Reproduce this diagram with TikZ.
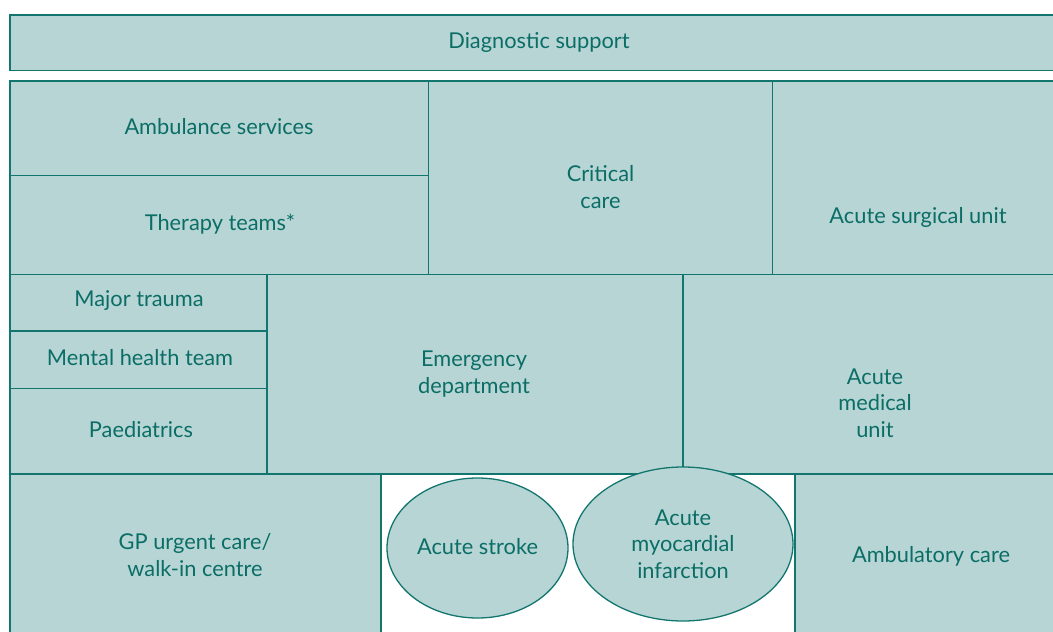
\documentclass[tikz,border=0pt]{standalone}
\usepackage{fontspec}
\setmainfont{Lato}
\usetikzlibrary{shapes.geometric}
\definecolor{boxfill}{RGB}{184,213,213}
\definecolor{boxline}{RGB}{18,118,110}
\definecolor{boxtext}{RGB}{10,110,102}
\tikzset{
  area/.style={fill=boxfill, draw=boxline, line width=1.3pt},
  lbl/.style={text=boxtext, font=\fontsize{21.8}{26.5}\selectfont, align=center, inner sep=0pt},
}
\begin{document}
\begin{tikzpicture}[x=1pt,y=-1pt]
\useasboundingbox (0,0) rectangle (1053,632);
\clip (0,0) rectangle (1053,632);
% shapes
\draw[area] (10,15) rectangle (1070,70.5);
\draw[area] (10,81) rectangle (428.5,175.5);
\draw[area] (10,175.5) rectangle (428.5,274.5);
\draw[area] (428.5,81) rectangle (772.5,274.5);
\draw[area] (772.5,81) rectangle (1070,274.5);
\draw[area] (10,274.5) rectangle (267,331);
\draw[area] (10,331) rectangle (267,388.5);
\draw[area] (10,388.5) rectangle (267,474);
\draw[area] (267,274.5) rectangle (683,474);
\draw[area] (683,274.5) rectangle (1070,474);
\draw[area] (10,474) rectangle (381,650);
\draw[area] (795,474) rectangle (1070,650);
\node[area, ellipse, minimum width=181pt, minimum height=140pt, inner sep=0pt] (stroke) at (477.5,548) {};
\node[area, ellipse, minimum width=220pt, minimum height=154pt, inner sep=0pt] (ami) at (683,544) {};
% labels
\node[lbl] (diag) at (539,42) {Diagnostic support};
\node[lbl] (amb) at (219,127) {Ambulance services};
\node[lbl] (ther) at (220,224) {Therapy teams*};
\node[lbl] (crit) at (600.5,187) {Critical\\care};
\node[lbl] (asu) at (918,217) {Acute surgical unit};
\node[lbl] (trauma) at (139,301) {Major trauma};
\node[lbl] (mental) at (140,358) {Mental health team};
\node[lbl] (paed) at (141,430) {Paediatrics};
\node[lbl] (ed) at (474,374) {Emergency\\department};
\node[lbl] (amu) at (875,403) {Acute\\medical\\unit};
\node[lbl] (gp) at (195,555) {GP urgent care/\\walk-in centre};
\node[lbl] at ([yshift=1pt]stroke.center) {Acute stroke};
\node[lbl] at (ami.center) {Acute\\myocardial\\infarction};
\node[lbl] (ambu) at (931,556) {Ambulatory care};
\end{tikzpicture}
\end{document}
